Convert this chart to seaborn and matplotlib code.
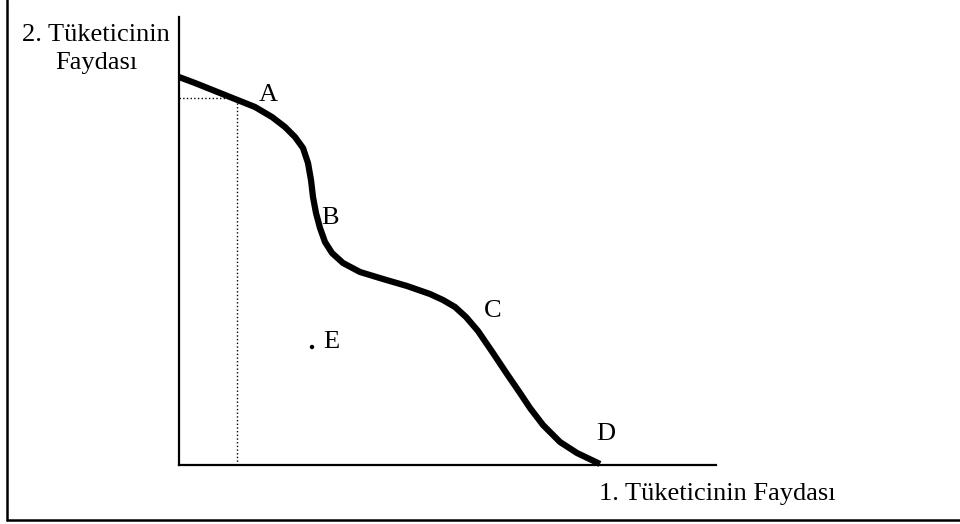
import matplotlib
matplotlib.use("Agg")
import matplotlib.pyplot as plt
import seaborn as sns
import pandas as pd
from matplotlib.lines import Line2D

# Data (in axis units: 0..537 horizontally, 0..448 vertically)
curve_x = [0, 16, 36, 56, 76, 93, 106, 116, 124, 129, 132, 134, 137, 141, 146, 153,
           164, 181, 204, 228, 251, 264, 276, 287, 299, 314, 328, 341, 351, 364, 381, 398, 421]
curve_y = [388, 382, 374, 366, 358, 348, 338, 328, 317, 302, 285, 268, 252, 237, 223, 212,
           202, 193, 186, 179, 171, 165, 158, 148, 134, 112, 91, 72, 57, 40, 23, 12, 1]
point_labels = ["A", "B", "C", "D"]
label_x = [89, 151, 314, 427]
label_y = [370, 247, 154, 31]
e_point_x = [133]
e_point_y = [118]
ref_x = 58
ref_y = 367
y_title = "2. Tüketicinin\nFaydası"
x_title = "1. Tüketicinin Faydası"

sns.set_theme(style="white")
plt.rcParams["font.family"] = ["Liberation Serif", "DejaVu Serif"]

fig = plt.figure(figsize=(9.6, 5.24), dpi=100)
ax = fig.add_axes([179 / 960, 59 / 524, 537 / 960, 448 / 524])

df = pd.DataFrame({"x": curve_x, "y": curve_y})
sns.lineplot(data=df, x="x", y="y", sort=False, ax=ax, color="black",
             linewidth=4.5, solid_capstyle="butt", solid_joinstyle="round",
             clip_on=False)
ep = pd.DataFrame({"x": e_point_x, "y": e_point_y})
sns.scatterplot(data=ep, x="x", y="y", ax=ax, color="black", s=10,
                edgecolor="none", clip_on=False)

ax.plot([0, ref_x], [ref_y, ref_y], color="black", linestyle=":", linewidth=1)
ax.plot([ref_x, ref_x], [0, ref_y], color="black", linestyle=":", linewidth=1)

for t, lx, ly in zip(point_labels, label_x, label_y):
    ax.text(lx, ly, t, fontsize=19, ha="center", va="center", color="black")
ax.text(144, 123, "E", fontsize=19, ha="left", va="center", color="black")

ax.set_xlim(0, 537)
ax.set_ylim(0, 448)
ax.set_xticks([])
ax.set_yticks([])
ax.set_xlabel("")
ax.set_ylabel("")
for s in ["top", "right"]:
    ax.spines[s].set_visible(False)
for s in ["left", "bottom"]:
    ax.spines[s].set_color("black")
    ax.spines[s].set_linewidth(1.6)
ax.patch.set_alpha(0)

fig.text(96 / 960, 1 - 49 / 524, y_title, fontsize=19, ha="center", va="center",
         multialignment="center", linespacing=1.32, color="black")
fig.text(717 / 960, 1 - 494 / 524, x_title, fontsize=19, ha="center", va="center",
         color="black")

# outer frame (left and bottom edges)
fig.add_artist(Line2D([6.5 / 960, 6.5 / 960], [1 - 519.5 / 524, 1.0],
                      transform=fig.transFigure, color="black", linewidth=1.8))
fig.add_artist(Line2D([6.5 / 960, 1.0], [1 - 519.5 / 524, 1 - 519.5 / 524],
                      transform=fig.transFigure, color="black", linewidth=1.8))

fig.savefig("out.png", dpi=100)
